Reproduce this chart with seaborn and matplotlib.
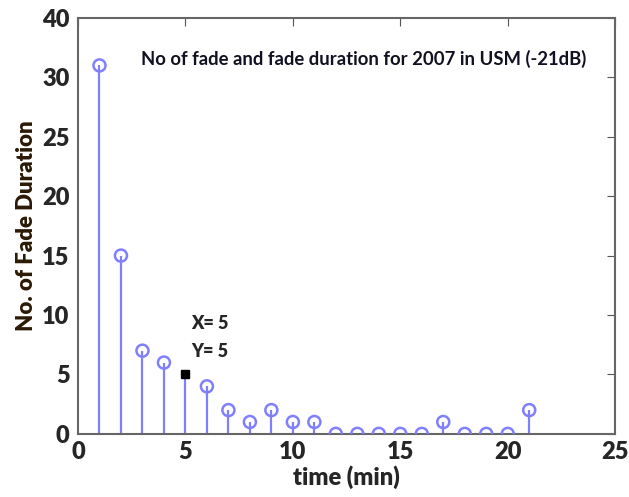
import matplotlib
matplotlib.use('Agg')

import seaborn as sns
import matplotlib.pyplot as plt
import pandas as pd

# fade duration counts
minutes = [1, 2, 3, 4, 5, 6, 7, 8, 9, 10, 11, 12, 13, 14, 15, 16, 17, 18, 19, 20, 21]
fade_counts = [31, 15, 7, 6, 5, 4, 2, 1, 2, 1, 1, 0, 0, 0, 0, 0, 1, 0, 0, 0, 2]
cursor_x, cursor_y = 5, 5
y_ticks = [0, 5, 10, 15, 20, 25, 30, 35]
y_tick_labels = ['0', '5', '10', '15', '20', '25', '30', '40']
x_ticks = [0, 5, 10, 15, 20, 25]

df = pd.DataFrame({'time': minutes, 'count': fade_counts})

sns.set_style('white')
plt.rcParams['font.family'] = ['Lato', 'DejaVu Sans']

stem_color = '#8080ff'

fig = plt.figure(figsize=(6.29, 4.97), dpi=100)
ax = fig.add_axes([0.124, 0.127, 0.854, 0.837])

# stems
ax.vlines(df['time'], 0, df['count'], color=stem_color, linewidth=1.6, zorder=2)
# baseline
ax.axhline(0, color='#555555', linewidth=2, zorder=1)

others = df[df['time'] != cursor_x]
sns.scatterplot(data=others, x='time', y='count', ax=ax, marker='o', s=75,
                facecolor='none', edgecolor=stem_color, linewidth=1.8, zorder=3,
                legend=False)
ax.plot([cursor_x], [cursor_y], marker='s', color='black', markersize=6, zorder=4)

ax.set_xlim(0, 25)
ax.set_ylim(0, 35)
ax.set_xticks(x_ticks)
ax.set_xticklabels([str(t) for t in x_ticks], fontsize=17, fontweight='heavy')
ax.set_yticks(y_ticks)
ax.set_yticklabels(y_tick_labels, fontsize=17, fontweight='heavy')
ax.tick_params(direction='in', length=6, color='#555555', top=True, right=True)
ax.tick_params(axis='x', pad=5)
ax.tick_params(axis='y', pad=6)

for s in ax.spines.values():
    s.set_visible(True)
    s.set_color('#666666')
    s.set_linewidth(1.5)

ax.set_xlabel('time (min)', fontsize=17, fontweight='heavy', labelpad=2)
ax.set_ylabel('No. of Fade Duration', fontsize=16, fontweight='heavy',
              color='#2a1a05', labelpad=4)

ax.text(2.95, 31.0, 'No of fade and fade duration for 2007 in USM (-21dB)',
        fontsize=13.3, fontweight='bold', color='#111122')
ax.text(5.25, 8.8, 'X= 5', fontsize=13, fontweight='heavy')
ax.text(5.25, 6.5, 'Y= 5', fontsize=13, fontweight='heavy')
ax.grid(False)

fig.savefig('out.png', dpi=100)
